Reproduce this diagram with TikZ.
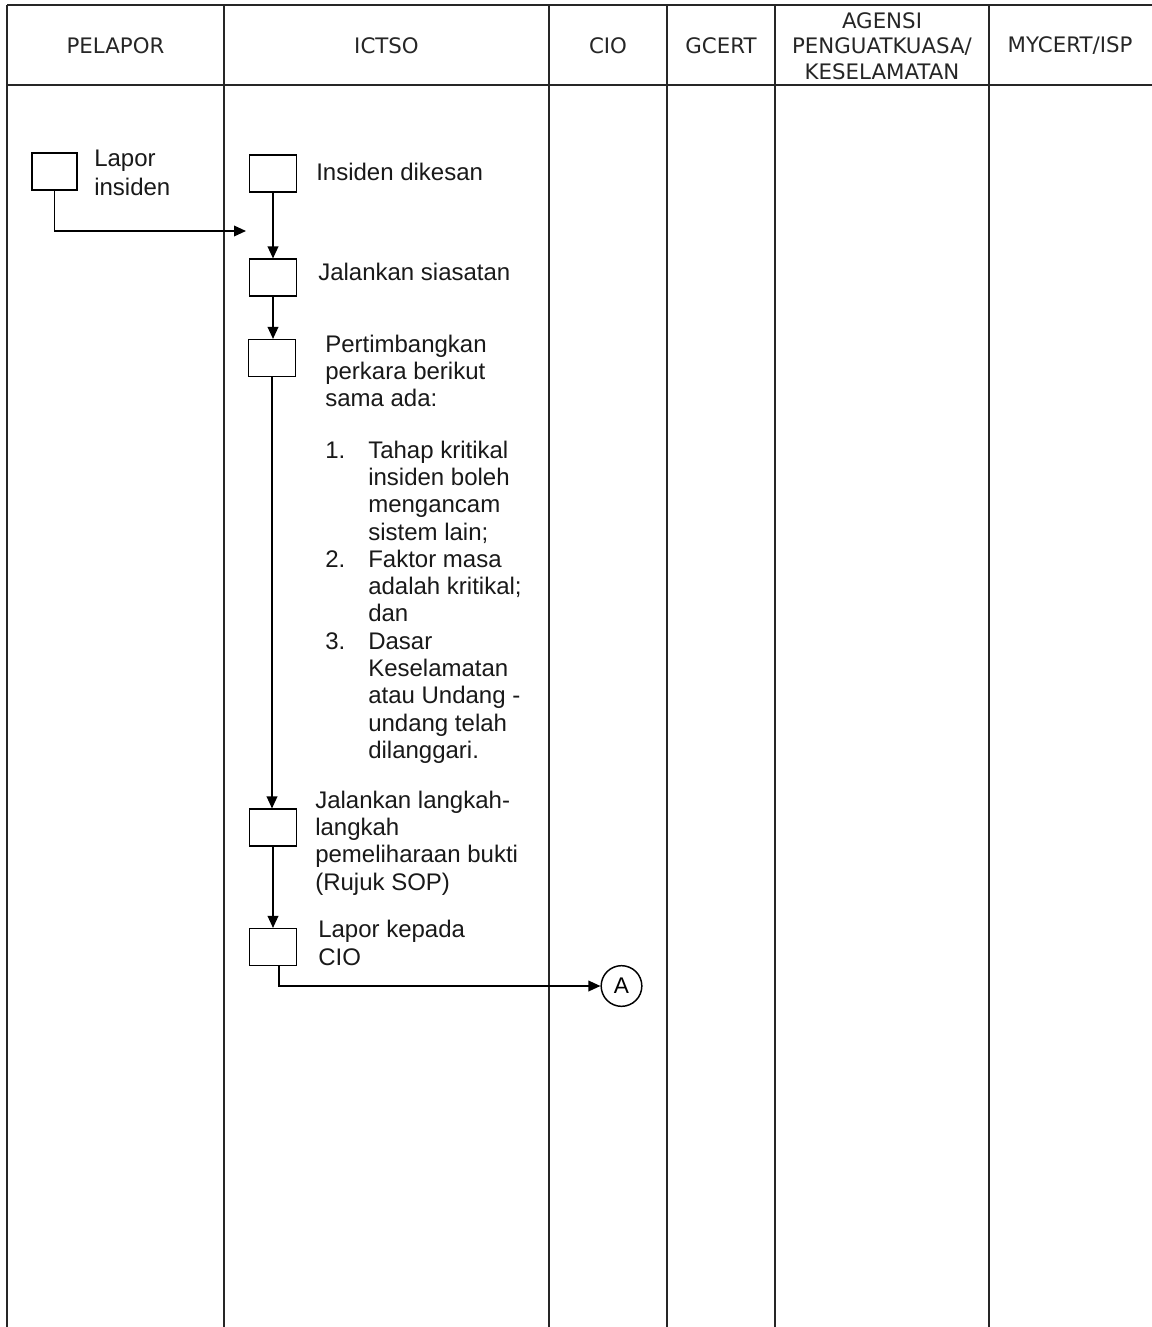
\documentclass[tikz,border=0pt]{standalone}
\usepackage{fontspec}
\setmainfont{Liberation Sans}
\newfontfamily\hdrfont{DejaVu Sans}
\usetikzlibrary{arrows.meta}
\begin{document}
\begin{tikzpicture}[x=0.75pt,y=-0.75pt,
  lane/.style={line width=1.4pt, draw=black!85},
  stepbox/.style={draw, line width=1.1pt, minimum width=35pt, minimum height=27.5pt, inner sep=0pt},
  flow/.style={line width=1.1pt, -{Triangle[length=9pt,width=8pt]}},
  hdr/.style={font=\hdrfont\fontsize{16}{19.1}\selectfont, align=center, text=black!85, inner sep=0pt},
  lbl/.style={font=\fontsize{18}{20.45}\selectfont, align=left, anchor=north west, inner sep=0pt, text=black!90},
  conn/.style={draw, circle, line width=1.1pt, minimum size=30.5pt, inner sep=0pt, font=\fontsize{17}{20}\selectfont},
]
\useasboundingbox[fill=white] (0,0) rectangle (1152,1327);

% swimlane table
\draw[lane] (7,5) -- (1152,5);
\draw[lane] (7,85) -- (1152,85);
\foreach \xx in {7,224,549,667,775,989}
  \draw[lane] (\xx,5) -- (\xx,1327);

% headers
\node[hdr] (hPel) at (115.5,46) {PELAPOR};
\node[hdr] (hIct) at (386.5,46) {ICTSO};
\node[hdr] (hCio) at (608,46) {CIO};
\node[hdr] (hGce) at (721,46) {GCERT};
\node[hdr] (hAge) at (882,46) {AGENSI\\PENGUATKUASA/\\KESELAMATAN};
\node[hdr] (hMyc) at (1070,46) {MYCERT/ISP};

% PELAPOR
\node[stepbox, minimum width=33.75pt] (p1) at (54.5,171.5) {};
\node[lbl, font=\fontsize{18}{21.75}\selectfont] (tp1) at (94,145.7) {\strut Lapor\\insiden};
\coordinate (pEnd) at (246,231);

% ICTSO boxes
\node[stepbox] (b1) at (273,173.5) {};
\node[stepbox] (b2) at (273,277.5) {};
\node[stepbox] (b3) at (272,358) {};
\node[stepbox] (b4) at (273,827.5) {};
\node[stepbox] (b5) at (273,947) {};

% CIO connector
\node[conn] (A) at (621.5,986) {A};

% labels
\node[lbl] (t1) at (316,160.9) {\strut Insiden dikesan};
\node[lbl] (t2) at (318,260.9) {\strut Jalankan siasatan};
\node[lbl] (t3) at (325,332.9) {\strut Pertimbangkan\\perkara berikut\\sama ada:};
\node[lbl] (n1) at (325,438.9) {\strut 1.};
\node[lbl] (i1) at (368,438.9) {\strut Tahap kritikal\\insiden boleh\\mengancam\\sistem lain;};
\node[lbl] (n2) at (325,547.9) {\strut 2.};
\node[lbl] (i2) at (368,547.9) {\strut Faktor masa\\adalah kritikal;\\dan};
\node[lbl] (n3) at (325,629.9) {\strut 3.};
\node[lbl] (i3) at (368,629.9) {\strut Dasar\\Keselamatan\\atau Undang -\\undang telah\\dilanggari.};
\node[lbl] (t4) at (315,788.9) {\strut Jalankan langkah-\\langkah\\pemeliharaan bukti\\(Rujuk SOP)};
\node[lbl, font=\fontsize{18}{21}\selectfont] (t5) at (318,917.4) {\strut Lapor kepada\\CIO};

% connectors
\draw[flow] (p1.south) |- (pEnd);
\draw[flow] (b1.south) -- (b2.north);
\draw[flow] (b2.south) -- (b3.north -| b2.south);
\draw[flow] (b3.south) -- (b4.north -| b3.south);
\draw[flow] (b4.south) -- (b5.north);
\draw[flow] ([xshift=4.5pt]b5.south) |- (A.west);
\end{tikzpicture}
\end{document}
